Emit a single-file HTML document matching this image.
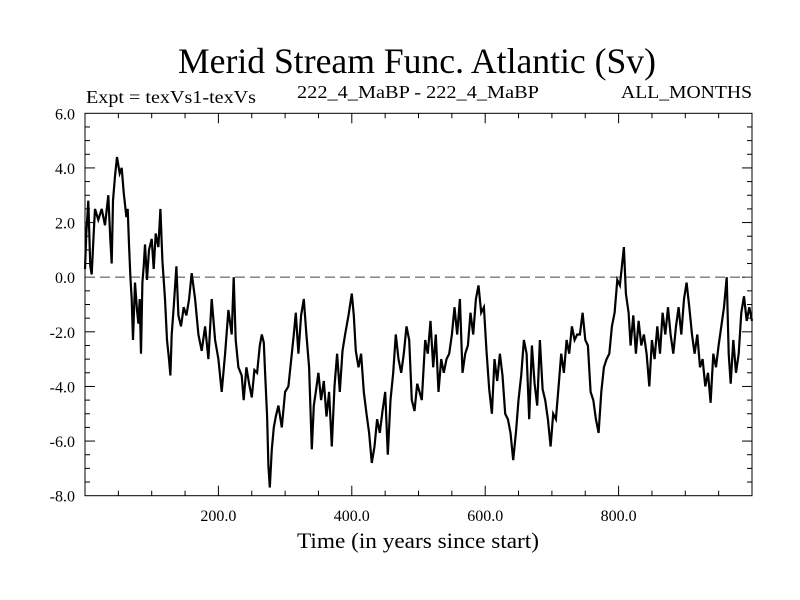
<!DOCTYPE html>
<html><head><meta charset="utf-8"><style>
body{margin:0;background:#fff;}
svg{display:block;font-family:"Liberation Serif",serif;}
</style></head><body>
<svg id="chart" width="800" height="600" viewBox="0 0 800 600" xmlns="http://www.w3.org/2000/svg">
<rect width="800" height="600" fill="#fff"/>
<text x="417" y="73" font-size="36" text-anchor="middle" textLength="478" lengthAdjust="spacingAndGlyphs">Merid Stream Func. Atlantic (Sv)</text>
<text x="86" y="103" font-size="18" textLength="170" lengthAdjust="spacingAndGlyphs">Expt = texVs1-texVs</text>
<text x="418" y="98" font-size="18" text-anchor="middle" textLength="242" lengthAdjust="spacingAndGlyphs">222_4_MaBP - 222_4_MaBP</text>
<text x="752" y="98" font-size="18" text-anchor="end" textLength="131" lengthAdjust="spacingAndGlyphs">ALL_MONTHS</text>
<text x="418" y="548" font-size="22" text-anchor="middle" textLength="242" lengthAdjust="spacingAndGlyphs">Time (in years since start)</text>
<g id="axes"></g>
<g id="series"></g>
<rect x="85" y="113.3" width="667" height="382.4" fill="none" stroke="#000" stroke-width="1"/>
</svg>
<script>
const xTicks=[200,400,600,800];
const xTickLabels=["200.0","400.0","600.0","800.0"];
const yTicks=[6,4,2,0,-2,-4,-6,-8];
const yTickLabels=["6.0","4.0","2.0","0.0","-2.0","-4.0","-6.0","-8.0"];
const years=[0,2,5,8,10,13,15,20,25,30,35,38,40,42,45,48,52,55,58,62,64,66,68,70,72,75,78,80,82,84,86,88,90,93,96,100,103,106,110,113,116,120,123,126,128,130,133,137,140,144,148,152,156,160,165,170,175,180,185,190,195,200,205,210,215,220,223,226,230,235,238,242,246,250,254,258,262,265,268,270,273,275,277,280,283,286,290,295,300,305,310,313,316,320,324,328,332,336,340,343,346,350,354,358,362,366,370,374,378,382,386,390,395,400,403,406,410,414,418,422,426,430,434,438,442,446,450,454,458,462,466,470,474,478,482,486,490,494,498,505,510,514,518,522,526,530,534,538,542,546,550,554,558,562,566,570,574,578,582,586,590,594,598,602,606,610,614,618,622,626,630,634,638,642,646,650,654,658,662,666,670,674,678,682,686,690,694,698,702,706,710,714,718,722,726,730,734,738,742,746,750,754,758,762,766,770,774,778,782,786,790,794,798,802,805,808,811,815,818,822,826,830,834,838,842,846,850,854,858,862,866,870,874,878,882,886,890,894,898,902,906,910,914,918,922,926,930,934,938,942,946,950,954,958,962,965,968,972,976,980,984,988,992,996,1000];
const values=[0.3,1.6,2.8,0.4,0.1,1.6,2.5,2.1,2.5,1.9,3.0,1.4,0.5,2.8,3.7,4.4,3.8,4.0,3.1,2.2,2.5,1.2,0,-0.8,-2.3,-0.2,-1.2,-1.7,-0.8,-2.8,-0.2,0.4,1.2,-0.1,1.0,1.4,0.3,1.6,1.1,2.5,0.6,-0.8,-2.3,-3.0,-3.6,-2.1,-1.1,0.4,-1.4,-1.8,-1.1,-1.4,-0.8,0.15,-0.8,-2.1,-2.7,-1.8,-3.0,-0.8,-2.3,-3.0,-4.2,-2.8,-1.2,-2.1,0,-2.3,-3.3,-3.6,-4.5,-3.3,-3.9,-4.4,-3.4,-3.5,-2.5,-2.1,-2.4,-3.5,-5.1,-6.9,-7.7,-6.3,-5.5,-5.1,-4.7,-5.5,-4.2,-4.0,-2.8,-2.1,-1.3,-2.8,-1.4,-0.8,-2.1,-3.3,-6.3,-4.7,-4.2,-3.5,-4.5,-3.8,-5.1,-4.2,-6.2,-4.0,-2.8,-4.2,-2.7,-2.1,-1.4,-0.6,-1.4,-2.7,-3.3,-2.8,-4.2,-5.0,-5.7,-6.8,-6.2,-5.2,-5.7,-4.9,-4.2,-6.5,-4.5,-3.5,-2.1,-3.0,-3.5,-2.8,-1.8,-2.3,-4.5,-4.9,-3.9,-4.5,-2.3,-2.8,-1.6,-3.3,-2.1,-4.2,-3.0,-3.5,-3.0,-2.8,-2.1,-1.1,-2.1,-0.8,-3.5,-2.8,-2.5,-1.3,-2.1,-0.8,-0.3,-1.3,-1.1,-2.7,-4.1,-5.0,-3.0,-3.8,-2.8,-3.6,-5.0,-5.2,-5.7,-6.7,-5.7,-4.5,-3.6,-2.3,-2.8,-5.2,-2.5,-3.9,-4.7,-2.3,-4.1,-4.5,-5.2,-6.2,-5.0,-5.2,-4.0,-2.8,-3.5,-2.3,-2.8,-1.8,-2.3,-2.1,-2.1,-1.3,-2.3,-2.5,-4.2,-4.5,-5.2,-5.7,-4.2,-3.3,-3.0,-2.8,-1.8,-1.3,-0.1,-0.3,0.4,1.1,-0.6,-1.3,-2.5,-1.4,-2.8,-1.6,-2.5,-2.1,-2.8,-4.0,-2.3,-3.0,-1.8,-2.8,-1.3,-2.1,-1.1,-2.1,-2.8,-1.8,-1.1,-2.1,-0.8,-0.2,-1.1,-2.1,-2.8,-2.1,-3.3,-3.0,-4.0,-3.5,-4.6,-2.8,-3.3,-2.5,-1.8,-1.1,0.0,-2.8,-3.9,-2.3,-3.5,-2.8,-1.3,-0.7,-1.6,-1.1,-1.6];
const X0=85,X1=752,Y0=113.3,Y1=495.7,xMin=0,xMax=1000,yMin=-8,yMax=6;
const xs=v=>X0+(v-xMin)/(xMax-xMin)*(X1-X0);
const ys=v=>Y1-(v-yMin)/(yMax-yMin)*(Y1-Y0);
const NS="http://www.w3.org/2000/svg";
const axes=document.getElementById('axes');
function mk(tag,attrs,parent){const e=document.createElementNS(NS,tag);for(const k in attrs)e.setAttribute(k,attrs[k]);parent.appendChild(e);return e;}
for(let v=50;v<1000;v+=50){
  const major=v%200===0;const len=major?10:5;
  const t1=mk('line',{x1:xs(v),x2:xs(v),y1:Y1,y2:Y1-len,stroke:'#000'},axes);
  
  
  const t2=mk('line',{x1:xs(v),x2:xs(v),y1:Y0,y2:Y0+len,stroke:'#000'},axes);
  
  
}
for(let v=-7.5;v<6;v+=0.5){
  const major=Math.abs(v%2)<1e-9;const len=major?10:5;
  const t1=mk('line',{x1:X0,x2:X0+len,y1:ys(v),y2:ys(v),stroke:'#000'},axes);
  
  
  const t2=mk('line',{x1:X1,x2:X1-len,y1:ys(v),y2:ys(v),stroke:'#000'},axes);
  
  
}
xTicks.forEach((v,i)=>{
  const t=mk('text',{x:xs(v),y:521,'font-size':16,'text-anchor':'middle'},axes);
  t.textContent=xTickLabels[i];
  
  
});
yTicks.forEach((v,i)=>{
  const t=mk('text',{x:75,y:ys(v)+6,'font-size':16,'text-anchor':'end'},axes);
  t.textContent=yTickLabels[i];
  
  
});
const zl=mk('line',{x1:X0,x2:X1,y1:ys(0),y2:ys(0),stroke:'#777','stroke-width':1.3,'stroke-dasharray':'10,5'},axes);


const d=years.map((y,i)=>(i?'L':'M')+xs(y).toFixed(1)+','+ys(values[i]).toFixed(1)).join('');
const p=mk('path',{d:d,fill:'none',stroke:'#000','stroke-width':2.2,'stroke-linejoin':'miter'},document.getElementById('series'));


</script>
</body></html>
